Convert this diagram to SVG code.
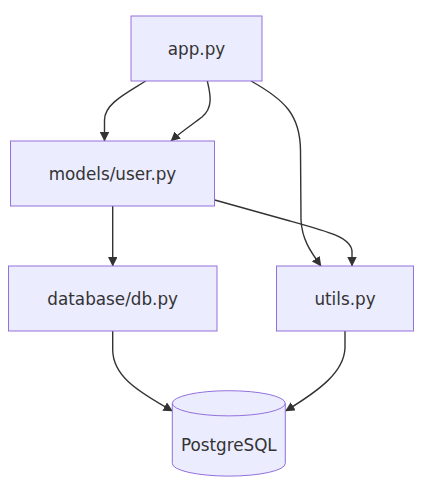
<svg xmlns="http://www.w3.org/2000/svg" width="431" height="488" viewBox="0 0 431 488">
<style>
.node rect,.node path{fill:#ECECFF;stroke:#9370DB;stroke-width:1}
.node text{font-family:"DejaVu Sans",sans-serif;font-size:16.8px;fill:#333;text-anchor:middle;dominant-baseline:central}
.edge{fill:none;stroke:#333;stroke-width:1.4}
</style>
<defs>
<marker id="arrow" viewBox="0 0 10 10" refX="9.5" refY="5" markerWidth="9.5" markerHeight="9.5" markerUnits="userSpaceOnUse" orient="auto">
<path d="M0,0 L10,5 L0,10 z" fill="#333"/>
</marker>
</defs>
<rect width="431" height="488" fill="#fff"/>
<g id="edges">
<path class="edge" marker-end="url(#arrow)" d="M145.7,81 C125,94 104.5,104 104.5,120 L104.5,141"/>
<path class="edge" marker-end="url(#arrow)" d="M207.3,81 C210,93 214,107 202,117 C193,124 182,131 171,141"/>
<path class="edge" marker-end="url(#arrow)" d="M251,81 C285,100 300,115 300.5,150 L301,220 C302,240 311,252 321,266"/>
<path class="edge" marker-end="url(#arrow)" d="M214.7,200 L290,221 C330,232 352,238 352,252 L352,266"/>
<path class="edge" marker-end="url(#arrow)" d="M112.7,206 L112.7,266"/>
<path class="edge" marker-end="url(#arrow)" d="M112.7,331 L112.7,350 C113,375 135,390 172.5,411"/>
<path class="edge" marker-end="url(#arrow)" d="M345,331 L345,348 C344,372 320,390 285.5,411"/>
</g>
<g id="app" class="node"><rect x="131" y="16" width="131" height="65"/><text x="196.5" y="48.5">app.py</text></g>
<g id="models" class="node"><rect x="10.5" y="141" width="204" height="65"/><text x="112.5" y="173.5">models/user.py</text></g>
<g id="db" class="node"><rect x="8.5" y="266" width="208.5" height="65"/><text x="112.7" y="298.5">database/db.py</text></g>
<g id="utils" class="node"><rect x="276.5" y="266" width="137" height="65"/><text x="345" y="298.5">utils.py</text></g>
<g id="postgres" class="node"><path d="M172.3,403.3 a56.5,12.6 0 0 0 113,0 a56.5,12.6 0 0 0 -113,0 L172.3,463.5 a56.5,12.6 0 0 0 113,0 L285.3,403.3"/><text x="228.8" y="445">PostgreSQL</text></g>
</svg>
